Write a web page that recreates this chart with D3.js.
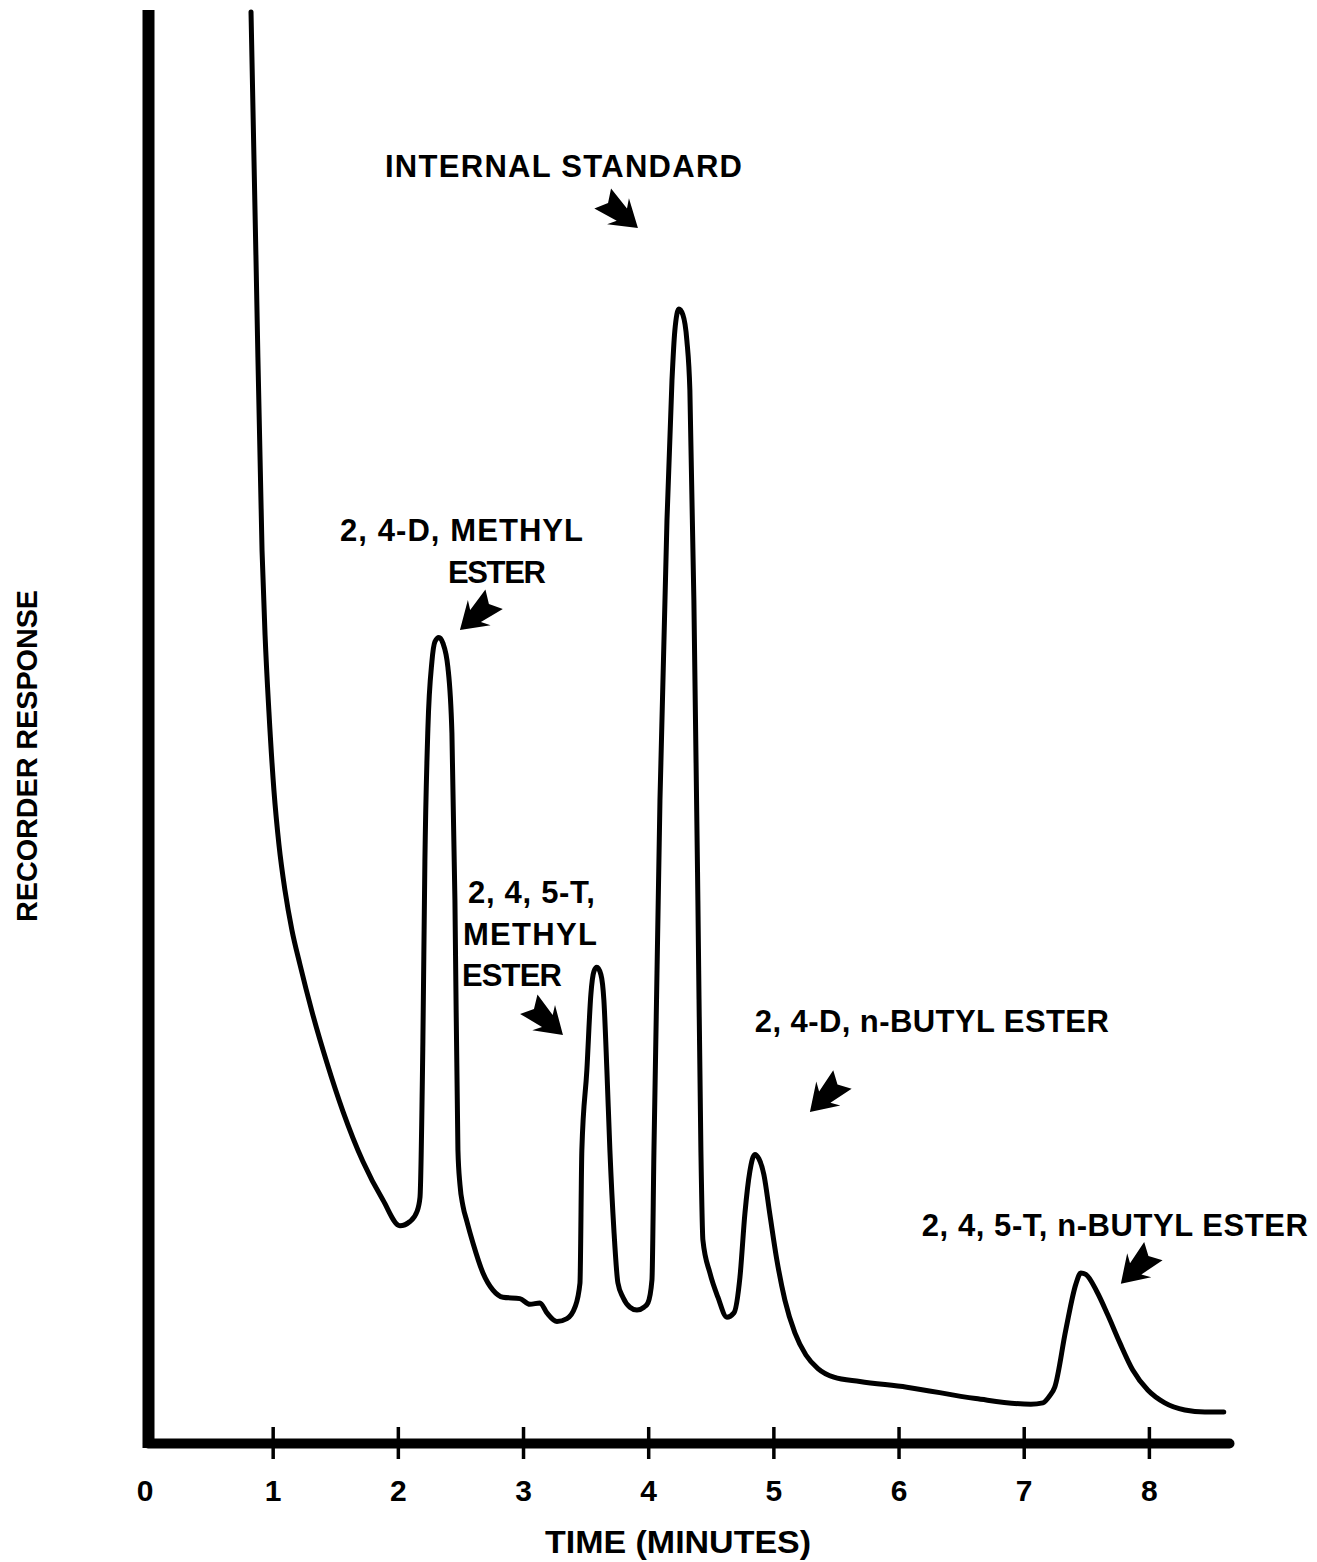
<!DOCTYPE html>
<html>
<head>
<meta charset="utf-8">
<script src="https://cdn.jsdelivr.net/npm/d3@7"></script>
<style>
  body { margin: 0; background: #fff; }
  svg text { font-family: "Liberation Sans", Arial, Helvetica, sans-serif; font-weight: bold; fill: #000; }
</style>
</head>
<body>
<div id="chart"></div>
<script>
// Trace: time in minutes, response in % of chart height
const timeMin = [
  0.827, 0.867, 0.915, 0.939, 0.970, 1.010, 1.050, 1.098, 1.154, 1.218, 1.314, 1.434, 1.562, 1.721, 1.881, 2.017, 2.097, 2.153,
  2.177, 2.200, 2.216, 2.240, 2.272, 2.296, 2.328, 2.360, 2.400, 2.432, 2.456, 2.480, 2.496, 2.520, 2.552, 2.600, 2.680, 2.760, 2.840,
  2.975, 3.055, 3.135, 3.191, 3.271, 3.351, 3.415,
  3.455, 3.470, 3.510, 3.542, 3.566, 3.590, 3.622, 3.646, 3.670, 3.694, 3.726, 3.758, 3.798, 3.854, 3.910, 3.966,
  3.998, 4.030, 4.046, 4.094, 4.150, 4.190, 4.213, 4.245, 4.277, 4.309, 4.333, 4.365, 4.397, 4.421, 4.437, 4.493, 4.557, 4.629, 4.685,
  4.733, 4.773, 4.812, 4.852, 4.884, 4.924, 4.972, 5.028, 5.092, 5.172, 5.260, 5.356, 5.483, 5.691, 6.066, 6.617, 7.057,
  7.153, 7.208, 7.248, 7.336, 7.416, 7.456, 7.496, 7.584, 7.672, 7.768, 7.871, 7.991, 8.127, 8.287, 8.447, 8.598
];
const response = [
  100.0, 82.6, 62.3, 56.4, 51.0, 45.5, 41.7, 38.5, 35.7, 33.3, 30.0, 26.4, 23.0, 19.5, 16.8, 15.0, 15.3, 16.0,
  17.0, 27.9, 40.5, 49.8, 54.5, 55.9, 56.2, 55.8, 54.1, 49.5, 37.8, 20.3, 17.9, 16.4, 15.3, 13.8, 11.7, 10.5, 10.0,
  9.9, 9.5, 9.6, 8.9, 8.3, 8.5, 9.3,
  11.0, 20.3, 25.9, 31.2, 32.8, 33.1, 32.6, 30.8, 25.9, 20.3, 14.7, 11.0, 10.0, 9.3, 9.1, 9.3,
  9.6, 11.2, 20.3, 44.8, 64.4, 74.2, 77.7, 79.2, 78.8, 77.0, 73.5, 58.8, 37.8, 20.3, 14.0, 11.7, 10.0, 8.6, 8.9,
  11.4, 15.9, 18.8, 20.0, 19.7, 18.6, 15.8, 12.6, 9.8, 7.5, 5.95, 5.0, 4.4, 4.1, 3.7, 2.9, 2.5,
  2.6, 3.1, 3.7, 7.7, 10.9, 11.7, 11.6, 10.4, 8.75, 6.8, 4.9, 3.5, 2.6, 2.1, 1.96, 1.96
];

const tickMinutes = [0, 1, 2, 3, 4, 5, 6, 7, 8];

const peakNames = [
  ["INTERNAL STANDARD"],
  ["2, 4-D, METHYL", "ESTER"],
  ["2, 4, 5-T,", "METHYL", "ESTER"],
  ["2, 4-D, n-BUTYL ESTER"],
  ["2, 4, 5-T, n-BUTYL ESTER"]
];

// where each label line starts (time, response) and how wide it is drawn
const labelLayout = [
  [[1.897, 88.45, 357]],
  [[1.538, 62.96, 243], [2.400, 60.01, 98]],
  [[2.560, 37.61, 127], [2.520, 34.66, 134], [2.512, 31.79, 100]],
  [[4.852, 28.57, 354]],
  [[6.186, 14.30, 386]]
];
// arrow tips (time, response) and pointing angle in degrees
const arrowLayout = [
  [3.918, 84.87, 40],
  [2.496, 56.72, 138],
  [3.319, 28.36, 42],
  [5.292, 22.97, 135],
  [7.776, 10.95, 135]
];

const width = 1317;
const height = 1562;

const svg = d3.select('#chart')
  .append('svg')
  .attr('width', width)
  .attr('height', height)
  .style('background', '#fff');

const x = d3.scaleLinear().domain([0, 8.64]).range([147.5, 1229]);
const y = d3.scaleLinear().domain([0, 100]).range([1440, 12]);

// x axis with ticks crossing the line
const xAxis = svg.append('g')
  .attr('transform', `translate(0, ${y(0) + 3})`)
  .call(d3.axisBottom(x).tickValues(tickMinutes).tickSizeOuter(0).tickFormat(d3.format('d')));

xAxis.select('.domain')
  .attr('stroke', '#000')
  .attr('stroke-width', 10)
  .attr('stroke-linecap', 'round');

xAxis.selectAll('.tick line')
  .attr('stroke', '#000')
  .attr('stroke-width', 3.5)
  .attr('y1', -16)
  .attr('y2', 16)
  .attr('display', d => d === 0 ? 'none' : null);

xAxis.selectAll('.tick text')
  .attr('y', 58)
  .attr('dy', 0)
  .attr('dx', d => d === 0 ? -3 : 0)
  .style('font-size', '30px');

// y axis: a heavy bare line
const yAxis = svg.append('g')
  .attr('transform', `translate(${x(0) + 1}, 0)`)
  .call(d3.axisLeft(y).tickValues([]).tickSizeOuter(0));

yAxis.select('.domain')
  .attr('d', `M0,${y(0) + 8}V${y(100) - 2}`)
  .attr('stroke', '#000')
  .attr('stroke-width', 12);

// the chromatogram trace
const line = d3.line()
  .x((d, i) => x(timeMin[i]))
  .y(d => y(d))
  .curve(d3.curveMonotoneX);

svg.append('path')
  .datum(response)
  .attr('d', line)
  .attr('fill', 'none')
  .attr('stroke', '#000')
  .attr('stroke-width', 5)
  .attr('stroke-linejoin', 'round')
  .attr('stroke-linecap', 'round');

// peak labels
peakNames.forEach((lines, i) => {
  lines.forEach((txt, j) => {
    const [t, r, w] = labelLayout[i][j];
    svg.append('text')
      .attr('x', x(t))
      .attr('y', y(r))
      .attr('textLength', w)
      .attr('lengthAdjust', 'spacing')
      .style('font-size', '31px')
      .text(txt);
  });
});

// block arrows pointing at the peaks
const arrowShape = 'M0,0 L-26,-17 L-21,-8 L-46,-13 L-39,0 L-46,13 L-21,8 L-26,17 Z';
arrowLayout.forEach(([t, r, angle]) => {
  svg.append('path')
    .attr('d', arrowShape)
    .attr('transform', `translate(${x(t)}, ${y(r)}) rotate(${angle})`)
    .attr('fill', '#000');
});

// axis titles
svg.append('text')
  .attr('x', 678)
  .attr('y', 1553)
  .attr('text-anchor', 'middle')
  .attr('textLength', 266)
  .attr('lengthAdjust', 'spacingAndGlyphs')
  .style('font-size', '32px')
  .text('TIME (MINUTES)');

svg.append('text')
  .attr('transform', 'translate(37, 756) rotate(-90)')
  .attr('text-anchor', 'middle')
  .attr('textLength', 332)
  .attr('lengthAdjust', 'spacingAndGlyphs')
  .style('font-size', '30px')
  .text('RECORDER RESPONSE');
</script>
</body>
</html>
